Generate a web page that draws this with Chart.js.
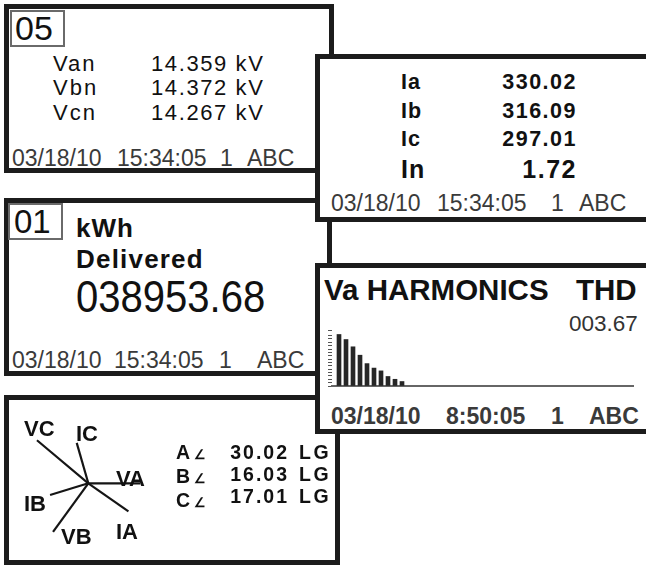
<!DOCTYPE html>
<html>
<head>
<meta charset="utf-8">
<script src="https://cdn.jsdelivr.net/npm/chart.js@4/dist/chart.umd.min.js"></script>
<style>
  html, body { margin:0; padding:0; background:#fff; }
  body { width:646px; height:567px; position:relative; overflow:hidden; font-family:"Liberation Sans", Arial, sans-serif; color:#111; }
  .p { position:absolute; box-sizing:border-box; border:5px solid #1c1c1c; background:#fff; }
  .box { position:absolute; box-sizing:border-box; border:2px solid #6a6a6a; background:#fff; }
  .t { position:absolute; line-height:0.85; white-space:pre; }
  .b { font-weight:bold; }
  .lo { z-index:1; } .lt { z-index:2; } .hi { z-index:3; } .ht { z-index:4; }
  .ft { font-size:23px; color:#3a3a3a; }
  .ftb { font-size:23px; color:#3a3a3a; font-weight:bold; }
  .ang { font-size:13px; font-weight:bold; }
</style>
</head>
<body>
<script>
// ---- data ----
const harmonicOrders = [2, 3, 4, 5, 6, 7, 8, 9, 10, 11];
const harmonicValues = [92, 83, 70, 55, 40, 32, 27, 17, 12, 8];   // relative bar heights (scale 0-100)
const phasorNames   = ['VA', 'IA', 'VB', 'IB', 'VC', 'IC'];
const phasorAngles  = [0, -35, 234, 197, 140, 106];               // degrees
const phasorLengths = [52, 49, 60, 40, 67, 42];                   // relative magnitudes
const voltageNames  = ['Van', 'Vbn', 'Vcn'];
const voltageValues = ['14.359 kV', '14.372 kV', '14.267 kV'];
const currentNames  = ['Ia', 'Ib', 'Ic', 'In'];
const currentValues = ['330.02', '316.09', '297.01', '1.72'];
const phaseNames    = ['A', 'B', 'C'];
const phaseAngleValues = ['30.02', '16.03', '17.01'];
</script>

<!-- lower panels -->
<div class="p lo" style="left:4px;top:4px;width:330px;height:169px;"></div>
<div class="p lo" style="left:4px;top:198px;width:328px;height:178px;"></div>
<div class="p lo" style="left:4px;top:395px;width:336px;height:170px;"></div>
<!-- upper panels -->
<div class="p hi" style="left:315px;top:54px;width:345px;height:168px;border-right:none;"></div>
<div class="p hi" style="left:315px;top:263px;width:345px;height:171px;border-right:none;"></div>

<!-- Panel 1 -->
<div class="box lt" style="left:10px;top:10px;width:55px;height:37px;"></div>
<div class="t lt" style="left:15px;top:13.5px;font-size:34px;">05</div>
<div id="p1names" class="t lt" style="left:53px;top:51.6px;font-size:22px;line-height:24.6px;letter-spacing:2px;"></div>
<div id="p1vals" class="t lt" style="left:151px;top:51.6px;font-size:22px;line-height:24.6px;letter-spacing:1.6px;"></div>
<div class="t lt ft" style="left:12px;top:148.7px;">03/18/10</div>
<div class="t lt ft" style="left:117px;top:148.7px;">15:34:05</div>
<div class="t lt ft" style="left:220px;top:148.7px;">1</div>
<div class="t lt ft" style="left:247px;top:148.7px;">ABC</div>

<!-- Panel 3 -->
<div class="box lt" style="left:8px;top:203px;width:55px;height:37px;"></div>
<div class="t lt" style="left:14px;top:207.6px;font-size:33px;">01</div>
<div class="t lt b" style="left:76px;top:217px;font-size:26px;letter-spacing:1px;">kWh</div>
<div class="t lt b" style="left:76px;top:248px;font-size:26px;letter-spacing:1.2px;">Delivered</div>
<div class="t lt" style="left:76px;top:277.8px;font-size:44px;transform:scaleX(0.91);transform-origin:left top;">038953.68</div>
<div class="t lt ft" style="left:12px;top:350.7px;">03/18/10</div>
<div class="t lt ft" style="left:114px;top:350.7px;">15:34:05</div>
<div class="t lt ft" style="left:219px;top:350.7px;">1</div>
<div class="t lt ft" style="left:257px;top:350.7px;">ABC</div>

<!-- Panel 5 -->
<div class="lt" style="position:absolute;left:15px;top:410px;width:150px;height:145px;"><canvas id="phasor" width="150" height="145"></canvas></div>
<div class="t lt b" style="left:24px;top:420px;font-size:22px;">VC</div>
<div class="t lt b" style="left:76px;top:425px;font-size:22px;">IC</div>
<div class="t lt b" style="left:116px;top:470px;font-size:22px;">VA</div>
<div class="t lt b" style="left:24px;top:495px;font-size:22px;">IB</div>
<div class="t lt b" style="left:61px;top:528px;font-size:22px;">VB</div>
<div class="t lt b" style="left:116px;top:523px;font-size:22px;">IA</div>
<div id="p5names" class="t lt b" style="left:176px;top:442.3px;font-size:19.5px;line-height:21.8px;"></div>
<div id="p5vals" class="t lt b" style="left:200px;width:89px;text-align:right;top:442.3px;font-size:19.5px;line-height:21.8px;letter-spacing:2px;"></div>
<div id="p5lg" class="t lt b" style="left:299px;top:442.3px;font-size:19.5px;line-height:21.8px;letter-spacing:2.5px;"></div>

<!-- Panel 2 -->
<div id="p2names" class="t ht b" style="left:401px;top:68.4px;font-size:21.5px;line-height:28.3px;letter-spacing:1px;"></div>
<div id="p2vals" class="t ht b" style="left:470px;width:107px;text-align:right;top:68.4px;font-size:21.5px;line-height:28.3px;letter-spacing:1.5px;"></div>
<div id="p2nname" class="t ht b" style="left:401px;top:157.1px;font-size:25px;line-height:1;letter-spacing:1px;"></div>
<div id="p2nval" class="t ht b" style="left:470px;width:107px;text-align:right;top:157.1px;font-size:25px;line-height:1;letter-spacing:1.5px;"></div>
<div class="t ht ft" style="left:331px;top:193.7px;">03/18/10</div>
<div class="t ht ft" style="left:437px;top:193.7px;">15:34:05</div>
<div class="t ht ft" style="left:551px;top:193.7px;">1</div>
<div class="t ht ft" style="left:579px;top:193.7px;">ABC</div>

<!-- Panel 4 -->
<div class="t ht b" style="left:324px;top:277.2px;font-size:29.5px;">Va HARMONICS</div>
<div class="t ht b" style="left:576px;top:277.2px;font-size:29.5px;">THD</div>
<div class="t ht" style="left:569px;top:314.4px;font-size:22.5px;color:#333;">003.67</div>
<div class="ht" style="position:absolute;left:326px;top:328px;width:310px;height:61px;"><canvas id="harm" width="310" height="61"></canvas></div>
<div class="t ht ftb" style="left:331px;top:407.2px;">03/18/10</div>
<div class="t ht ftb" style="left:446px;top:407.2px;">8:50:05</div>
<div class="t ht ftb" style="left:551px;top:407.2px;">1</div>
<div class="t ht ftb" style="left:589px;top:407.2px;">ABC</div>

<script>
function setLines(id, arr) { document.getElementById(id).innerHTML = arr.join('<br>'); }
setLines('p1names', voltageNames);
setLines('p1vals', voltageValues);
setLines('p2names', currentNames.slice(0, 3));
setLines('p2vals', currentValues.slice(0, 3));
setLines('p2nname', currentNames.slice(3));
setLines('p2nval', currentValues.slice(3));
setLines('p5names', phaseNames.map(n => n + '<span class="ang"> ∠</span>'));
setLines('p5vals', phaseAngleValues);
setLines('p5lg', phaseNames.map(() => 'LG'));

// Harmonics bar chart
new Chart(document.getElementById('harm'), {
  type: 'bar',
  data: {
    datasets: [{
      data: harmonicOrders.map((h, i) => ({ x: h, y: harmonicValues[i] })),
      backgroundColor: '#262626',
      barThickness: 4
    }]
  },
  options: {
    responsive: false,
    animation: false,
    layout: { padding: { top: 2, right: 3, left: 0, bottom: 0 } },
    plugins: { legend: { display: false }, tooltip: { enabled: false } },
    scales: {
      x: {
        type: 'linear', min: 1, max: 44, offset: false,
        grid: { drawOnChartArea: false, drawTicks: false, offset: false },
        ticks: { display: false },
        border: { display: true, color: '#666', width: 2 },
        afterFit: s => { s.height = 3; }
      },
      y: {
        min: 0, max: 100,
        ticks: { display: false, stepSize: 6 },
        grid: { drawOnChartArea: false, drawTicks: true, tickLength: 4, color: '#555' },
        border: { display: false },
        afterFit: s => { s.width = 6; }
      }
    }
  }
});

// Phasor diagram
new Chart(document.getElementById('phasor'), {
  type: 'scatter',
  data: {
    datasets: phasorNames.map((n, i) => {
      const a = phasorAngles[i] * Math.PI / 180;
      return {
        label: n,
        data: [{ x: 0, y: 0 }, { x: phasorLengths[i] * Math.cos(a), y: phasorLengths[i] * Math.sin(a) }],
        showLine: true,
        borderColor: '#151515',
        borderWidth: 2.2,
        pointRadius: 0
      };
    })
  },
  options: {
    responsive: false,
    animation: false,
    layout: { padding: 0 },
    plugins: { legend: { display: false }, tooltip: { enabled: false } },
    scales: {
      x: { type: 'linear', display: false, min: -73.3, max: 76.7 },
      y: { type: 'linear', display: false, min: -71.7, max: 73.3 }
    }
  }
});
</script>
</body>
</html>
